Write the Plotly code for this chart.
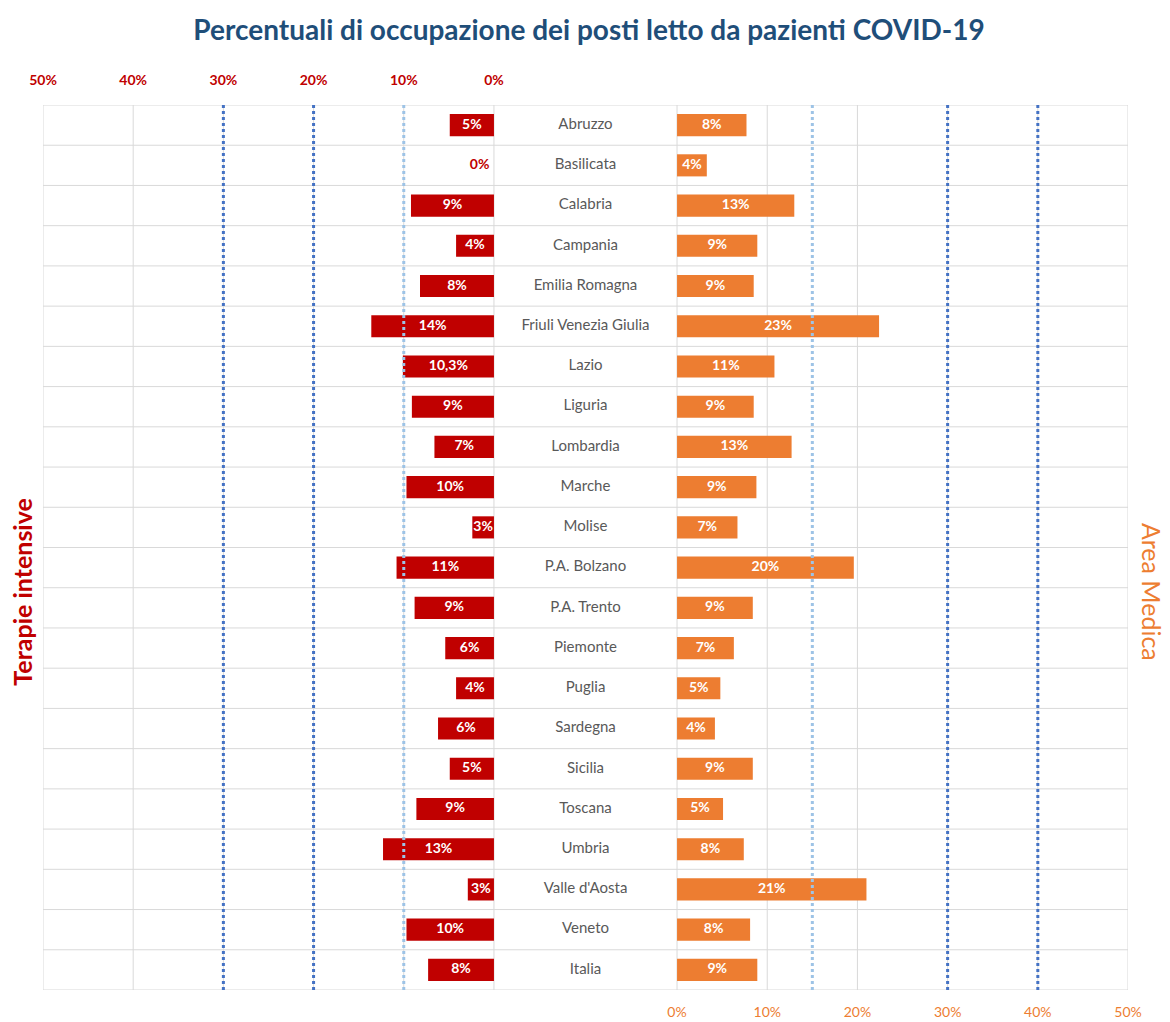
import plotly.graph_objects as go

regions = ["Abruzzo", "Basilicata", "Calabria", "Campania", "Emilia Romagna",
           "Friuli Venezia Giulia", "Lazio", "Liguria", "Lombardia", "Marche",
           "Molise", "P.A. Bolzano", "P.A. Trento", "Piemonte", "Puglia",
           "Sardegna", "Sicilia", "Toscana", "Umbria", "Valle d'Aosta",
           "Veneto", "Italia"]
ti_values = [4.9, 0, 9.2, 4.2, 8.2, 13.6, 10.1, 9.1, 6.6, 9.7, 2.4, 10.8, 8.8,
             5.4, 4.2, 6.2, 4.9, 8.6, 12.3, 2.9, 9.7, 7.3]
ti_labels = ["5%", "0%", "9%", "4%", "8%", "14%", "10,3%", "9%", "7%", "10%", "3%",
             "11%", "9%", "6%", "4%", "6%", "5%", "9%", "13%", "3%", "10%", "8%"]
am_values = [7.7, 3.3, 13.0, 8.9, 8.5, 22.4, 10.8, 8.5, 12.7, 8.8, 6.7, 19.6, 8.4,
             6.3, 4.8, 4.2, 8.4, 5.1, 7.4, 21.0, 8.1, 8.9]
am_labels = ["8%", "4%", "13%", "9%", "9%", "23%", "11%", "9%", "13%", "9%", "7%",
             "20%", "9%", "7%", "5%", "4%", "9%", "5%", "8%", "21%", "8%", "9%"]
tick_pcts = [0, 10, 20, 30, 40, 50]
ti_thresholds = [30, 20, 10]
ti_threshold_dark = [True, True, False]
am_thresholds = [15, 30, 40]
am_threshold_dark = [False, True, True]

TITLE = "Percentuali di occupazione dei posti letto da pazienti COVID-19"
RED = "#C00000"
ORANGE = "#ED7D31"
GRID = "#D9D9D9"
DARKDOT = "#4472C4"
LIGHTDOT = "#9DC3E6"
FONT = "Lato"

GAP = 20.3  # width of the central label column in axis units
n = len(regions)
ys = list(range(n))

fig = go.Figure()

# Bars
fig.add_trace(go.Bar(y=ys, x=[-v for v in ti_values], orientation="h",
                     marker=dict(color=RED, line=dict(width=0)), width=0.55,
                     showlegend=False, hoverinfo="skip"))
fig.add_trace(go.Bar(y=ys, x=am_values, base=[GAP] * n, orientation="h",
                     marker=dict(color=ORANGE, line=dict(width=0)), width=0.55,
                     showlegend=False, hoverinfo="skip"))

# Bar labels
ti_x = [(-v / 2) if v > 0 else -0.5 for v in ti_values]
ti_pos = ["middle center" if v > 0 else "middle left" for v in ti_values]
ti_col = ["white" if v > 0 else RED for v in ti_values]
fig.add_trace(go.Scatter(y=ys, x=ti_x, mode="text", text=ti_labels,
                         textposition=ti_pos,
                         textfont=dict(family=FONT, size=14, color=ti_col, weight="bold"),
                         showlegend=False, hoverinfo="skip"))
fig.add_trace(go.Scatter(y=ys, x=[GAP + v / 2 for v in am_values], mode="text",
                         text=am_labels,
                         textfont=dict(family=FONT, size=14, color="white", weight="bold"),
                         showlegend=False, hoverinfo="skip"))
# Region names
fig.add_trace(go.Scatter(y=ys, x=[GAP / 2] * n, mode="text", text=regions,
                         textfont=dict(family=FONT, size=15, color="#595959"),
                         showlegend=False, hoverinfo="skip"))

shapes = []
# horizontal row separators
for i in range(n + 1):
    shapes.append(dict(type="line", xref="paper", yref="y", x0=0, x1=1,
                       y0=i - 0.5, y1=i - 0.5, line=dict(color=GRID, width=1),
                       layer="below"))
# vertical grid lines
for p in tick_pcts:
    for xv in (-p, GAP + p):
        shapes.append(dict(type="line", xref="x", yref="paper", x0=xv, x1=xv,
                           y0=0, y1=1, line=dict(color=GRID, width=1), layer="below"))
# threshold dotted lines
for p, dark in zip(ti_thresholds, ti_threshold_dark):
    shapes.append(dict(type="line", xref="x", yref="paper", x0=-p, x1=-p, y0=0, y1=1,
                       line=dict(color=DARKDOT if dark else LIGHTDOT, width=3, dash="dot"),
                       layer="above"))
for p, dark in zip(am_thresholds, am_threshold_dark):
    shapes.append(dict(type="line", xref="x", yref="paper", x0=GAP + p, x1=GAP + p,
                       y0=0, y1=1,
                       line=dict(color=DARKDOT if dark else LIGHTDOT, width=3, dash="dot"),
                       layer="above"))

xrange = [-50, GAP + 50]

fig.update_layout(
    width=1162, height=1014,
    margin=dict(l=35, r=42, t=97, b=32, autoexpand=False),
    paper_bgcolor="white", plot_bgcolor="white",
    font=dict(family=FONT),
    bargap=0.45,
    barmode="overlay",
    title=dict(text=TITLE, x=0.5, xanchor="center", y=0.978, yanchor="middle",
               font=dict(family=FONT, size=28, color="#1F4E79", weight="bold")),
    xaxis=dict(range=xrange, tickvals=[GAP + p for p in tick_pcts],
               ticktext=[f"{p}%" for p in tick_pcts], showgrid=False, zeroline=False,
               showline=False, ticks="", ticklabelstandoff=12, automargin=False,
               tickfont=dict(family=FONT, size=14, color=ORANGE)),
    xaxis2=dict(range=xrange, overlaying="x", side="top",
                tickvals=[-p for p in tick_pcts], ticktext=[f"{p}%" for p in tick_pcts],
                showgrid=False, zeroline=False, showline=False, ticks="",
                ticklabelstandoff=16, automargin=False,
                tickfont=dict(family=FONT, size=14, color=RED, weight="bold")),
    yaxis=dict(range=[n - 0.5, -0.5], showticklabels=False, showgrid=False,
               zeroline=False, showline=False, automargin=False),
    shapes=shapes,
    annotations=[
        dict(text="Terapie intensive", xref="paper", yref="paper", x=-0.0194, y=0.45,
             textangle=-90, showarrow=False, xanchor="center", yanchor="middle",
             font=dict(family=FONT, size=25, color=RED, weight="bold")),
        dict(text="Area Medica", xref="paper", yref="paper", x=1.022, y=0.45,
             textangle=90, showarrow=False, xanchor="center", yanchor="middle",
             font=dict(family=FONT, size=25, color=ORANGE)),
    ],
)
# invisible trace to activate xaxis2
fig.add_trace(go.Scatter(x=[-50, 0], y=[0, 0], xaxis="x2", mode="markers",
                         marker=dict(opacity=0), showlegend=False, hoverinfo="skip"))

fig.write_html("out.html")
